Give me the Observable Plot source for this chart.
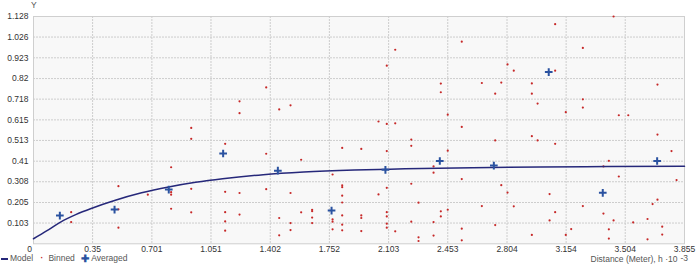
<!DOCTYPE html>
<html>
<head>
<meta charset="utf-8">
<script src="https://cdn.jsdelivr.net/npm/d3@7"></script>
<script src="https://cdn.jsdelivr.net/npm/@observablehq/plot@0.6"></script>
<style>
  html, body { margin: 0; padding: 0; background: #fff; }
  #wrap { position: relative; width: 700px; height: 264px; font-family: "Liberation Sans", Arial, sans-serif; }
  #legend { position: absolute; left: 1px; top: 253px; font-size: 8.5px; color: #555; white-space: nowrap; line-height: 11px; }
  #legend span { display: inline-block; vertical-align: middle; }
  #xtitle { position: absolute; right: 12px; top: 255px; font-size: 8.5px; color: #555; line-height: 9px; white-space: nowrap; }
  #xtitle .sup { position: relative; top: -1px; font-size: 8.5px; margin-left: 3px; }
  #ytitle { position: absolute; left: 31px; top: 0px; font-size: 8.5px; color: #555; }
</style>
</head>
<body>
<div id="wrap">
  <div id="chart"></div>
  <div id="ytitle">Y</div>
  <div id="legend">
    <span style="width:7px;height:1.6px;background:#26287a;margin-right:2px;"></span><span>Model</span>
    <span style="color:#c62828;font-weight:bold;margin:0 5px 0 5px;">·</span><span>Binned</span>
    <span style="color:#2a52a0;font-weight:bold;margin:0 2px 0 4px;font-size:10px;">✚</span><span>Averaged</span>
  </div>
  <div id="xtitle">Distance (Meter), h ·10<span class="sup">-3</span></div>
</div>
<script>
// Tick labels
const xTicks = [0, 0.35, 0.701, 1.051, 1.402, 1.752, 2.103, 2.453, 2.804, 3.154, 3.504, 3.855];
const yTicks = [0.103, 0.205, 0.308, 0.41, 0.513, 0.615, 0.718, 0.82, 0.923, 1.026, 1.128];

// Model curve
const modelX = [0, 0.08, 0.16, 0.25, 0.35, 0.48, 0.64, 0.80, 0.96, 1.12, 1.36, 1.6, 1.9, 2.2, 2.6, 3.0, 3.4, 3.855];
const modelY = [0.025, 0.065, 0.108, 0.145, 0.178, 0.215, 0.253, 0.282, 0.305, 0.323, 0.343, 0.356, 0.366, 0.372, 0.378, 0.381, 0.383, 0.385];

// Averaged points
const avgX = [0.156, 0.480, 0.801, 1.123, 1.447, 1.765, 2.084, 2.406, 2.726, 3.051, 3.371, 3.693];
const avgY = [0.140, 0.170, 0.269, 0.448, 0.363, 0.165, 0.367, 0.411, 0.388, 0.852, 0.253, 0.411];

// Binned points
const binX = [
  0.223, 0.223, 0.503, 0.503, 0.503, 0.677, 0.815, 0.815, 0.815, 0.815,
  0.934, 0.934, 0.934, 0.934, 1.135, 1.135, 1.135, 1.135, 1.135, 1.220,
  1.220, 1.220, 1.220, 1.378, 1.378, 1.378, 1.455, 1.455, 1.455, 1.522,
  1.522, 1.522, 1.522, 1.585, 1.585, 1.650, 1.650, 1.650, 1.650, 1.771,
  1.771, 1.771, 1.771, 1.828, 1.828, 1.828, 1.828, 1.828, 1.828, 1.828,
  1.828, 1.941, 1.941, 1.941, 1.941, 2.043, 2.043, 2.092, 2.092, 2.092,
  2.092, 2.092, 2.092, 2.092, 2.092, 2.142, 2.142, 2.142, 2.237, 2.237,
  2.237, 2.237, 2.280, 2.280, 2.280, 2.369, 2.369, 2.369, 2.369, 2.412,
  2.412, 2.412, 2.412, 2.453, 2.453, 2.453, 2.536, 2.536, 2.536, 2.536,
  2.536, 2.655, 2.655, 2.734, 2.734, 2.734, 2.770, 2.770, 2.807, 2.807,
  2.844, 2.844, 2.951, 2.951, 2.951, 2.951, 2.985, 2.985, 3.056, 3.056,
  3.089, 3.089, 3.089, 3.089, 3.152, 3.152, 3.184, 3.253, 3.253, 3.253,
  3.253, 3.375, 3.375, 3.407, 3.407, 3.407, 3.435, 3.435, 3.466, 3.466,
  3.522, 3.551, 3.636, 3.636, 3.666, 3.695, 3.695, 3.695, 3.723, 3.723,
  3.778, 3.808
];
const binY = [
  0.157, 0.108, 0.286, 0.171, 0.080, 0.244, 0.380, 0.256, 0.244, 0.174,
  0.575, 0.521, 0.273, 0.156, 0.496, 0.258, 0.157, 0.111, 0.065, 0.707,
  0.648, 0.252, 0.145, 0.776, 0.447, 0.271, 0.667, 0.128, 0.042, 0.687,
  0.252, 0.103, 0.068, 0.417, 0.156, 0.169, 0.162, 0.130, 0.103, 0.344,
  0.121, 0.110, 0.072, 0.476, 0.290, 0.281, 0.239, 0.205, 0.141, 0.095,
  0.067, 0.471, 0.141, 0.128, 0.063, 0.607, 0.245, 0.884, 0.595, 0.460,
  0.278, 0.157, 0.136, 0.100, 0.080, 0.963, 0.598, 0.062, 0.517, 0.486,
  0.298, 0.110, 0.204, 0.032, 0.014, 0.384, 0.353, 0.108, 0.041, 0.795,
  0.752, 0.161, 0.136, 0.641, 0.462, 0.169, 1.003, 0.580, 0.321, 0.075,
  0.017, 0.798, 0.187, 0.745, 0.513, 0.093, 0.800, 0.291, 0.890, 0.254,
  0.859, 0.186, 0.796, 0.745, 0.534, 0.044, 0.696, 0.513, 0.247, 0.116,
  1.090, 0.859, 0.496, 0.157, 0.653, 0.044, 0.073, 0.972, 0.717, 0.676,
  0.187, 0.150, 0.384, 0.412, 0.072, 0.026, 1.128, 0.116, 0.638, 0.334,
  0.638, 0.106, 0.123, 0.022, 0.197, 0.790, 0.542, 0.219, 0.085, 0.046,
  0.460, 0.316
];

const model = modelX.map((x, i) => ({x, y: modelY[i]}));
const averaged = avgX.map((x, i) => ({x, y: avgY[i]}));
const binned = binX.map((x, i) => ({x, y: binY[i]}));

const gridStyle = {stroke: "#cdcdcd", strokeOpacity: 1, strokeDasharray: "2,1", strokeWidth: 1};

const chart = Plot.plot({
  width: 700,
  height: 264,
  marginLeft: 33,
  marginRight: 16,
  marginTop: 16,
  marginBottom: 20.7,
  style: {fontFamily: "'Liberation Sans', Arial, sans-serif", fontSize: "8.5px", color: "#333", background: "transparent", overflow: "visible"},
  x: {domain: [0, 3.855], label: null},
  y: {domain: [0, 1.128], label: null},
  marks: [
    Plot.frame({fill: "#f8f8f8", stroke: "#cfcfcf"}),
    Plot.gridX(xTicks.slice(1, -1), gridStyle),
    Plot.gridY(yTicks.slice(0, -1), gridStyle),
    Plot.axisX(xTicks.slice(1), {tickSize: 0, tickPadding: 2, tickFormat: d => String(d), fill: "#333"}),
    Plot.axisX([0], {tickSize: 0, tickPadding: 2, dx: -4, tickFormat: d => String(d), fill: "#333"}),
    Plot.axisY(yTicks, {tickSize: 0, tickPadding: 5, tickFormat: d => String(d), fill: "#333"}),
    Plot.dot(binned, {x: "x", y: "y", r: 1.1, fill: "#c62828", stroke: null}),
    Plot.line(model, {x: "x", y: "y", curve: "monotone-x", stroke: "#26287a", strokeWidth: 1.5}),
    Plot.dot(averaged, {x: "x", y: "y", symbol: "plus", r: 2.6, fill: "none", stroke: "#2a52a0", strokeWidth: 2})
  ]
});
document.getElementById("chart").appendChild(chart);
</script>
</body>
</html>
